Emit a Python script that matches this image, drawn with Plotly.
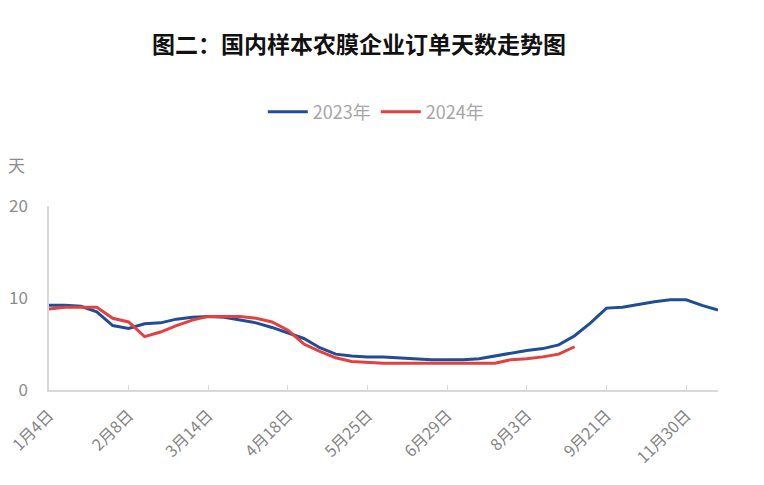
import plotly.graph_objects as go

categories = ["1月4日", "1月11日", "1月18日", "1月25日", "2月1日", "2月8日", "2月15日", "2月22日",
              "3月1日", "3月7日", "3月14日", "3月21日", "3月28日", "4月4日", "4月11日", "4月18日",
              "4月25日", "5月4日", "5月11日", "5月18日", "5月25日", "6月1日", "6月8日", "6月15日",
              "6月22日", "6月29日", "7月6日", "7月13日", "7月20日", "7月27日", "8月3日", "8月10日",
              "8月17日", "8月24日", "8月31日", "9月21日", "10月12日", "10月26日", "11月9日",
              "11月16日", "11月30日", "12月14日", "12月28日"]
tick_labels = ["1月4日", "2月8日", "3月14日", "4月18日", "5月25日", "6月29日", "8月3日", "9月21日", "11月30日"]

s2023 = [9.2, 9.2, 9.1, 8.5, 7.0, 6.7, 7.2, 7.3, 7.7, 7.9, 8.0, 7.9, 7.6, 7.3, 6.8, 6.2,
         5.6, 4.6, 3.9, 3.7, 3.6, 3.6, 3.5, 3.4, 3.3, 3.3, 3.3, 3.4, 3.7, 4.0, 4.3, 4.5,
         4.9, 5.9, 7.3, 8.9, 9.0, 9.3, 9.6, 9.8, 9.8, 9.2, 8.7]
s2024 = [8.8, 9.0, 9.0, 9.0, 7.8, 7.4, 5.8, 6.3, 7.0, 7.6, 8.0, 8.0, 8.0, 7.8, 7.4, 6.5,
         5.0, 4.2, 3.5, 3.1, 3.0, 2.9, 2.9, 2.9, 2.9, 2.9, 2.9, 2.9, 2.9, 3.3, 3.4, 3.6,
         3.9, 4.7]
series_names = ["2023年", "2024年"]

fig = go.Figure()
fig.add_trace(go.Scatter(x=categories[:len(s2023)], y=s2023, mode="lines", name=series_names[0],
                         line=dict(color="#1f4e96", width=3)))
fig.add_trace(go.Scatter(x=categories[:len(s2024)], y=s2024, mode="lines", name=series_names[1],
                         line=dict(color="#e5403d", width=3)))

font_family = "Noto Sans CJK SC, Noto Sans, sans-serif"
fig.update_layout(
    width=764, height=485,
    margin=dict(l=41, r=54, t=198, b=103, autoexpand=False),
    paper_bgcolor="white", plot_bgcolor="white",
    font=dict(family=font_family, color="#8c8c8c"),
    title=dict(text="<b>图二：国内样本农膜企业订单天数走势图</b>", x=0.4594, xanchor="center",
               y=0.9237, yanchor="middle", font=dict(size=23, color="#111111", family=font_family)),
    legend=dict(orientation="h", x=0.4885, xanchor="center", y=1.51, yanchor="middle",
                font=dict(size=18, color="#a6a6a6"), itemwidth=40),
    showlegend=True,
    xaxis=dict(type="category", categoryorder="array", categoryarray=categories,
               range=[0, len(categories) - 1], tickmode="array", tickvals=tick_labels,
               ticktext=tick_labels, tickangle=-45, tickfont=dict(size=16, color="#858585"),
               showline=True, linecolor="#d9d9d9", linewidth=1.5, ticks="inside", ticklen=5,
               tickcolor="#d9d9d9", showgrid=False, zeroline=False, automargin=False,
               ticklabelstandoff=8),
    yaxis=dict(range=[0, 20], tickvals=[0, 10, 20], tickfont=dict(size=17, color="#8c8c8c"),
               showline=True, linecolor="#d9d9d9", linewidth=1.5, showgrid=False, zeroline=False,
               ticklabelstandoff=16, automargin=False),
    annotations=[dict(text="天", xref="paper", yref="paper", x=-0.049, y=1.223,
                      xanchor="center", yanchor="middle", showarrow=False,
                      font=dict(size=17, color="#8c8c8c"))],
)

fig.write_html("out.html")
